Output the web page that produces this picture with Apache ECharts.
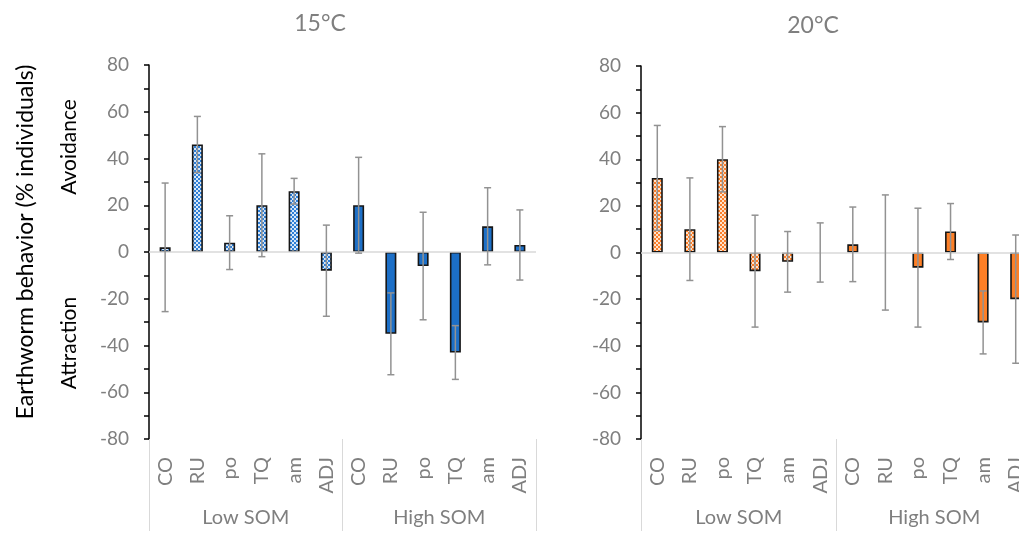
<!DOCTYPE html>
<html lang="en">
<head>
<meta charset="UTF-8">
<title>Earthworm behavior</title>
<style>
  html, body { margin: 0; padding: 0; background: #fff; }
  #main { width: 1019px; height: 534px; }
</style>
</head>
<body>
<div id="main"></div>
<script src="https://cdn.jsdelivr.net/npm/echarts@6/dist/echarts.min.js"></script>
<script>
// categories: 6 treatments in Low SOM, then 6 in High SOM
var categories = ['CO', 'RU', 'po', 'TQ', 'am', 'ADJ', 'CO', 'RU', 'po', 'TQ', 'am', 'ADJ'];
var groups = ['Low SOM', 'High SOM'];
var temps = ['15°C', '20°C'];

// y scale
var yMin = -80;
var yMax = 80;
var yStep = 20;

// means and error (+/-)
var mean15 = [2, 46, 4, 20, 26, -8, 20, -35, -6, -43, 11, 3];
var err15 = [27.5, 12, 11.5, 22, 5.5, 19.5, 20.5, 17.5, 23, 11.5, 16.5, 15];
var mean20 = [32, 10, 40, -8, -4, 0, 3.5, 0, -6.5, 9, -30, -20];
var err20 = [22.5, 22, 14, 24, 13, 12.7, 16, 24.7, 25.5, 12, 13.5, 27.5];

var FONT = 'Lato';
var GRAY = '#7f7f7f';

// small checker tile for the Low SOM bars
function checker(c, light) {
    var cv = document.createElement('canvas');
    cv.width = 4;
    cv.height = 4;
    var ctx = cv.getContext('2d');
    ctx.fillStyle = light;
    ctx.fillRect(0, 0, 4, 4);
    ctx.fillStyle = c;
    ctx.fillRect(0, 0, 2, 2);
    ctx.fillRect(2, 2, 2, 2);
    return cv;
}

function makeBars(means, tile, solid) {
    return means.map(function (v, i) {
        return {
            value: v,
            itemStyle: {
                color: i < 6 ? { image: tile, repeat: 'repeat' } : solid,
                borderWidth: v === 0 ? 0 : 1.6
            }
        };
    });
}

function makeErr(means, errs) {
    return means.map(function (v, i) {
        return [i, v - errs[i], v + errs[i]];
    });
}

function renderErr(params, api) {
    var x = api.value(0);
    var lo = api.coord([x, api.value(1)]);
    var hi = api.coord([x, api.value(2)]);
    var cap = 3.5;
    var st = { stroke: '#929292', lineWidth: 1.5 };
    return {
        type: 'group',
        children: [
            { type: 'line', shape: { x1: lo[0], y1: lo[1], x2: hi[0], y2: hi[1] }, style: st },
            { type: 'line', shape: { x1: lo[0] - cap, y1: lo[1], x2: lo[0] + cap, y2: lo[1] }, style: st },
            { type: 'line', shape: { x1: hi[0] - cap, y1: hi[1], x2: hi[0] + cap, y2: hi[1] }, style: st }
        ]
    };
}

function catAxis(gi) {
    return {
        type: 'category',
        gridIndex: gi,
        position: 'bottom',
        data: categories,
        axisLine: { show: false, onZero: false },
        axisTick: { show: false },
        axisLabel: { interval: 0, rotate: 90, margin: 18, color: GRAY, fontSize: 20, fontFamily: FONT }
    };
}

function groupAxis(gi) {
    return {
        type: 'category',
        gridIndex: gi,
        position: 'bottom',
        data: groups,
        axisLine: { show: false, onZero: false },
        axisTick: { show: true, interval: 0, length: 92, lineStyle: { color: '#d9d9d9', width: 1 } },
        axisLabel: { interval: 0, margin: 69, color: GRAY, fontSize: 20, fontFamily: FONT }
    };
}

function valAxis(gi) {
    return {
        type: 'value',
        gridIndex: gi,
        min: yMin,
        max: yMax,
        interval: yStep,
        axisLine: { show: true, lineStyle: { color: '#000', width: 1.5 } },
        axisTick: { show: true, length: 5, lineStyle: { color: '#000', width: 1.5 } },
        minorTick: { show: true, splitNumber: 2, length: 5, lineStyle: { color: '#000', width: 1.5 } },
        splitLine: { show: false },
        axisLabel: { color: GRAY, fontSize: 19, fontFamily: FONT, margin: 20 }
    };
}

function barSeries(gi, data) {
    return {
        type: 'bar',
        xAxisIndex: gi * 2,
        yAxisIndex: gi,
        barWidth: 11,
        data: data,
        itemStyle: { borderColor: '#161616', borderWidth: 1.6 },
        markLine: {
            silent: true,
            symbol: 'none',
            label: { show: false },
            lineStyle: { color: '#d9d9d9', width: 1.5, type: 'solid' },
            data: [{ yAxis: 0 }]
        },
        z: 2
    };
}

function errSeries(gi, data) {
    return {
        type: 'custom',
        xAxisIndex: gi * 2,
        yAxisIndex: gi,
        renderItem: renderErr,
        encode: { x: 0, y: [1, 2] },
        data: data,
        z: 5
    };
}

var myChart = echarts.init(document.getElementById('main'));

var option = {
    animation: false,
    backgroundColor: '#fff',
    grid: [
        { left: 149, top: 65, width: 387, height: 374, outerBoundsMode: 'none' },
        { left: 641, top: 66, width: 391, height: 373, outerBoundsMode: 'none' }
    ],
    xAxis: [catAxis(0), groupAxis(0), catAxis(1), groupAxis(1)],
    yAxis: [valAxis(0), valAxis(1)],
    graphic: [
        { type: 'text', x: 320, y: 24, style: { text: temps[0], fill: GRAY, font: '23px ' + FONT, align: 'center', verticalAlign: 'middle' } },
        { type: 'text', x: 813, y: 26, style: { text: temps[1], fill: GRAY, font: '23px ' + FONT, align: 'center', verticalAlign: 'middle' } },
        { type: 'text', x: 26, y: 242, rotation: Math.PI / 2, style: { text: 'Earthworm behavior (% individuals)', fill: '#000', font: '23px ' + FONT, align: 'center', verticalAlign: 'middle' } },
        { type: 'text', x: 69, y: 147, rotation: Math.PI / 2, style: { text: 'Avoidance', fill: '#000', font: '21px ' + FONT, align: 'center', verticalAlign: 'middle' } },
        { type: 'text', x: 69, y: 343, rotation: Math.PI / 2, style: { text: 'Attraction', fill: '#000', font: '21px ' + FONT, align: 'center', verticalAlign: 'middle' } }
    ],
    series: [
        barSeries(0, makeBars(mean15, checker('#2f7fd6', '#d6e7f9'), '#1c6fc7')),
        errSeries(0, makeErr(mean15, err15)),
        barSeries(1, makeBars(mean20, checker('#fb7f2a', '#fee2cc'), '#fd7f26')),
        errSeries(1, makeErr(mean20, err20))
    ]
};

myChart.setOption(option);
</script>
</body>
</html>
